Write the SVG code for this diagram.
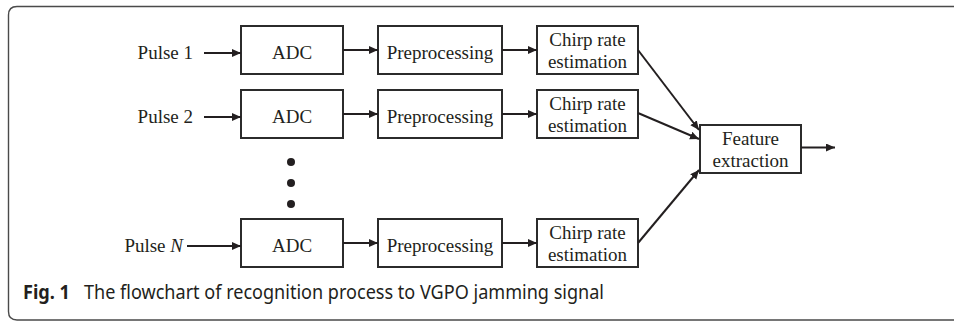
<svg xmlns="http://www.w3.org/2000/svg" width="954" height="322" viewBox="0 0 954 322">
  <style>
    .box { fill: #ffffff; stroke: #2b2b2b; stroke-width: 2; }
    .lbl { font-family: "Liberation Serif", "Times New Roman", serif; font-size: 19px; fill: #231f20; text-anchor: middle; }
    .pl { font-family: "Liberation Serif", "Times New Roman", serif; font-size: 19px; fill: #231f20; text-anchor: end; }
    .wire { stroke: #231f20; stroke-width: 2; fill: none; marker-end: url(#head); }
    .cap { font-family: "Noto Sans", "Open Sans", sans-serif; font-size: 19px; fill: #231f20; }
  </style>
  <defs>
    <marker id="head" markerUnits="userSpaceOnUse" markerWidth="10" markerHeight="9" refX="9" refY="4" orient="auto">
      <path d="M0,0 L9,4 L0,8 z" fill="#231f20"/>
    </marker>
  </defs>

  <rect width="954" height="322" fill="#ffffff"/>
  <!-- figure frame, open on the right -->
  <path d="M960,6.5 H17 Q8.5,6.5 8.5,15 V311.5 Q8.5,320 17,320 H960" fill="none" stroke="#4a4a4a" stroke-width="1.4"/>

  <!-- input labels -->
  <g id="pulse1"><text class="pl" x="193" y="59">Pulse 1</text></g>
  <g id="pulse2"><text class="pl" x="193" y="123">Pulse 2</text></g>
  <g id="pulseN"><text class="pl" x="183" y="252">Pulse <tspan font-style="italic">N</tspan></text></g>

  <!-- row 1 -->
  <g id="adc1"><rect class="box" x="241" y="26" width="102" height="48"/><text class="lbl" x="292" y="58.5">ADC</text></g>
  <g id="pre1"><rect class="box" x="378" y="26" width="124" height="48"/><text class="lbl" x="440" y="58.5">Preprocessing</text></g>
  <g id="chirp1"><rect class="box" x="537" y="26" width="101" height="48"/><text class="lbl" x="587.5" y="46">Chirp rate</text><text class="lbl" x="587.5" y="67.5">estimation</text></g>

  <!-- row 2 -->
  <g id="adc2"><rect class="box" x="241" y="90" width="102" height="48"/><text class="lbl" x="292" y="122.5">ADC</text></g>
  <g id="pre2"><rect class="box" x="378" y="90" width="124" height="48"/><text class="lbl" x="440" y="122.5">Preprocessing</text></g>
  <g id="chirp2"><rect class="box" x="537" y="90" width="101" height="48"/><text class="lbl" x="587.5" y="110">Chirp rate</text><text class="lbl" x="587.5" y="131.5">estimation</text></g>

  <!-- ellipsis between rows -->
  <g id="ellipsis" fill="#231f20">
    <circle cx="291" cy="162" r="4"/>
    <circle cx="291" cy="183" r="4"/>
    <circle cx="291" cy="204" r="4"/>
  </g>

  <!-- row N -->
  <g id="adcN"><rect class="box" x="241" y="219" width="102" height="48"/><text class="lbl" x="292" y="251.5">ADC</text></g>
  <g id="preN"><rect class="box" x="378" y="219" width="124" height="48"/><text class="lbl" x="440" y="251.5">Preprocessing</text></g>
  <g id="chirpN"><rect class="box" x="537" y="219" width="101" height="48"/><text class="lbl" x="587.5" y="239">Chirp rate</text><text class="lbl" x="587.5" y="260.5">estimation</text></g>

  <!-- merge -->
  <g id="feature"><rect class="box" x="700" y="125" width="101" height="48"/><text class="lbl" x="750.5" y="145">Feature</text><text class="lbl" x="750.5" y="166.5">extraction</text></g>

  <g id="connectors">
    <line class="wire" x1="204" y1="53" x2="241" y2="53"/>
    <line class="wire" x1="343" y1="50" x2="378" y2="50"/>
    <line class="wire" x1="502" y1="50" x2="537" y2="50"/>

    <line class="wire" x1="204" y1="117" x2="241" y2="117"/>
    <line class="wire" x1="343" y1="114" x2="378" y2="114"/>
    <line class="wire" x1="502" y1="114" x2="537" y2="114"/>

    <line class="wire" x1="187" y1="246" x2="241" y2="246"/>
    <line class="wire" x1="343" y1="243" x2="378" y2="243"/>
    <line class="wire" x1="502" y1="243" x2="537" y2="243"/>

    <line class="wire" x1="638" y1="50" x2="699" y2="130"/>
    <line class="wire" x1="638" y1="113" x2="699" y2="139"/>
    <line class="wire" x1="638" y1="243" x2="699" y2="170"/>

    <line class="wire" x1="801" y1="147.5" x2="835" y2="147.5"/>
  </g>

  <!-- caption -->
  <g id="caption">
    <text class="cap" x="23" y="299" font-weight="bold" textLength="47" lengthAdjust="spacingAndGlyphs">Fig. 1</text>
    <text class="cap" x="84" y="299" textLength="520" lengthAdjust="spacingAndGlyphs">The flowchart of recognition process to VGPO jamming signal</text>
  </g>
</svg>
